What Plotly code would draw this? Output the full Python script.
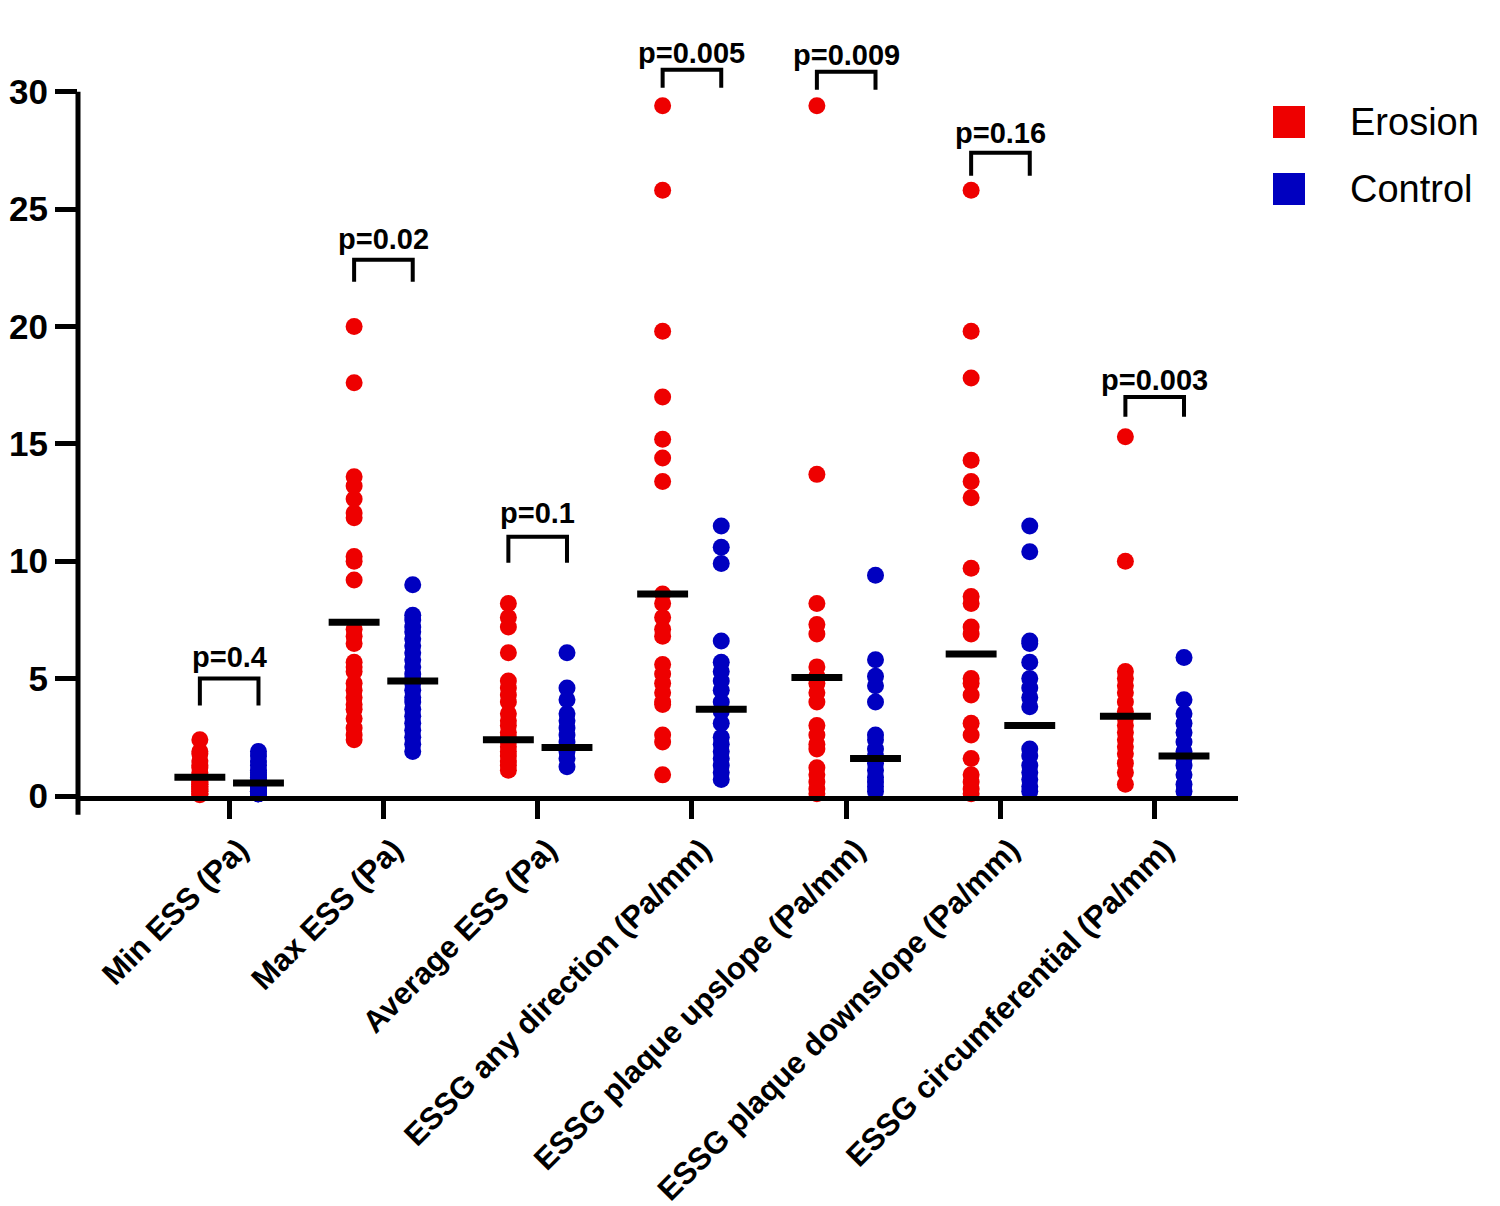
import plotly.graph_objects as go

categories = ["Min ESS (Pa)", "Max ESS (Pa)", "Average ESS (Pa)",
              "ESSG any direction (Pa/mm)", "ESSG plaque upslope (Pa/mm)",
              "ESSG plaque downslope (Pa/mm)", "ESSG circumferential (Pa/mm)"]

erosion_values = [
    [2.4, 1.9, 1.8, 1.5, 1.3, 1.2, 1.0, 0.9, 0.8, 0.7, 0.6, 0.6, 0.5, 0.5, 0.4, 0.4, 0.3, 0.3, 0.2, 0.2, 0.1, 0.1, 0.05],
    [20.0, 17.6, 13.6, 13.2, 12.65, 12.05, 11.85, 10.2, 10.0, 9.2, 7.1, 6.8, 6.5, 5.7, 5.5, 5.3, 4.8, 4.5, 4.2, 3.9, 3.7, 3.3, 2.9, 2.6, 2.4],
    [8.2, 7.6, 7.2, 6.1, 4.9, 4.6, 4.3, 4.0, 3.5, 3.2, 3.0, 2.7, 2.5, 2.3, 2.1, 1.9, 1.7, 1.5, 1.3, 1.1],
    [29.4, 25.8, 19.8, 17.0, 15.2, 14.4, 13.4, 8.6, 8.2, 7.6, 7.1, 6.8, 5.6, 5.2, 4.8, 4.4, 4.0, 3.9, 2.6, 2.3, 0.9],
    [29.4, 13.7, 8.2, 7.3, 6.9, 5.5, 5.1, 4.8, 4.4, 4.0, 3.0, 2.6, 2.2, 2.0, 1.2, 0.9, 0.6, 0.3, 0.1],
    [25.8, 19.8, 17.8, 14.3, 13.4, 12.7, 9.7, 8.5, 8.2, 7.2, 6.9, 5.0, 4.8, 4.3, 3.1, 2.6, 1.6, 0.9, 0.6, 0.3, 0.1],
    [15.3, 10.0, 5.3, 5.0, 4.7, 4.4, 4.0, 3.6, 3.3, 3.0, 2.7, 2.4, 2.1, 1.8, 1.4, 1.0, 0.5],
]

control_values = [
    [1.9, 1.7, 1.5, 1.3, 1.1, 1.0, 0.9, 0.8, 0.7, 0.6, 0.5, 0.5, 0.4, 0.4, 0.3, 0.3, 0.3, 0.2, 0.2, 0.2, 0.1, 0.1, 0.1, 0.1],
    [9.0, 7.7, 7.5, 7.2, 7.0, 6.7, 6.4, 6.1, 5.8, 5.5, 5.2, 5.0, 4.8, 4.5, 4.2, 4.0, 3.7, 3.4, 3.1, 2.8, 2.5, 2.2, 1.9],
    [6.1, 4.6, 4.1, 3.5, 3.2, 2.9, 2.6, 2.3, 2.1, 1.9, 1.6, 1.25],
    [11.5, 10.6, 9.9, 6.6, 5.7, 5.3, 4.9, 4.5, 4.0, 3.6, 3.1, 2.5, 2.2, 1.9, 1.6, 1.3, 1.0, 0.7],
    [9.4, 5.8, 5.1, 4.7, 4.0, 2.6, 2.4, 2.0, 1.7, 1.4, 1.1, 0.8, 0.6, 0.4, 0.2],
    [11.5, 10.4, 6.6, 6.5, 5.7, 5.0, 4.6, 4.2, 3.8, 2.0, 1.7, 1.3, 1.0, 0.7, 0.4, 0.2],
    [5.9, 4.1, 3.5, 3.1, 2.7, 2.3, 1.9, 1.6, 1.3, 0.9, 0.5, 0.2],
]

erosion_centre = [0.8, 7.4, 2.4, 8.6, 5.05, 6.05, 3.4]
control_centre = [0.55, 4.9, 2.07, 3.7, 1.6, 3.0, 1.7]

p_labels = ["p=0.4", "p=0.02", "p=0.1", "p=0.005", "p=0.009", "p=0.16", "p=0.003"]
bracket_top = [5.0, 22.84, 11.04, 30.93, 30.85, 27.4, 17.0]
bracket_leg = [3.85, 21.9, 9.93, 30.17, 30.08, 26.42, 16.15]
p_label_y = [5.92, 23.73, 12.06, 31.66, 31.57, 28.25, 17.72]

RED = "#EE0000"
BLUE = "#0000C0"
FONT = "Liberation Sans, Arial, sans-serif"
OFF = 0.19
HALF = 0.165

# figure size accounts for the 8px default page margin of the html body
W, H = 1492, 1198
L, T = 70, 25
PW, PH = 1160, 763

fig = go.Figure()

ex, ey, cx, cy = [], [], [], []
for i in range(len(categories)):
    for v in erosion_values[i]:
        ex.append(i - OFF)
        ey.append(v)
    for v in control_values[i]:
        cx.append(i + OFF)
        cy.append(v)

fig.add_trace(go.Scatter(x=ex, y=ey, mode="markers", name="Erosion",
                         marker=dict(color=RED, size=17, line=dict(width=0)),
                         cliponaxis=False, showlegend=False))
fig.add_trace(go.Scatter(x=cx, y=cy, mode="markers", name="Control",
                         marker=dict(color=BLUE, size=17, line=dict(width=0)),
                         cliponaxis=False, showlegend=False))

for i in range(len(categories)):
    fig.add_trace(go.Scatter(x=[i - OFF - HALF, i - OFF + HALF], y=[erosion_centre[i]] * 2,
                             mode="lines", line=dict(color="black", width=7),
                             showlegend=False, hoverinfo="skip"))
    fig.add_trace(go.Scatter(x=[i + OFF - HALF, i + OFF + HALF], y=[control_centre[i]] * 2,
                             mode="lines", line=dict(color="black", width=7),
                             showlegend=False, hoverinfo="skip"))

shapes = []
annotations = []
for i in range(len(categories)):
    xa, xb = i - OFF, i + OFF
    shapes.append(dict(type="path", xref="x", yref="y",
                       path=f"M {xa},{bracket_leg[i]} L {xa},{bracket_top[i]} L {xb},{bracket_top[i]} L {xb},{bracket_leg[i]}",
                       line=dict(color="black", width=4)))
    annotations.append(dict(x=i, y=p_label_y[i], xref="x", yref="y", text=p_labels[i],
                            showarrow=False, xanchor="center", yanchor="middle",
                            font=dict(family=FONT, size=29, color="black", weight="bold")))

YMAX = 32.5
# y axis line (0 to 30, extending slightly below the x axis)
shapes.append(dict(type="line", xref="paper", yref="paper", x0=0, x1=0,
                   y0=-0.8 / YMAX, y1=30 / YMAX, line=dict(color="black", width=5)))

# legend (positions measured relative to the plot area)
leg_items = [("Erosion", RED, 122), ("Control", BLUE, 189)]
for name, col, py in leg_items:
    shapes.append(dict(type="rect", xref="paper", yref="paper",
                       x0=(1273 - 78) / PW, x1=(1305 - 78) / PW,
                       y0=(796 - (py + 16)) / PH, y1=(796 - (py - 16)) / PH,
                       fillcolor=col, line=dict(width=0)))
    annotations.append(dict(x=(1348 - 78) / PW, y=(796 - py) / PH, xref="paper", yref="paper",
                            text=name, showarrow=False, xanchor="left", yanchor="middle",
                            font=dict(family=FONT, size=38, color="black")))

fig.update_layout(
    width=W, height=H,
    margin=dict(l=L, r=W - L - PW, t=T, b=H - T - PH, pad=0, autoexpand=False),
    plot_bgcolor="white", paper_bgcolor="white",
    showlegend=False,
    shapes=shapes, annotations=annotations,
    xaxis=dict(range=[-0.98, 6.54], tickvals=list(range(len(categories))), ticktext=categories,
               tickangle=-45, showgrid=False, zeroline=False, showline=True, automargin=False,
               linecolor="black", linewidth=5, ticks="outside", ticklen=18, tickwidth=5,
               tickcolor="black", ticklabelshift=10,
               tickfont=dict(family=FONT, size=31, color="black", weight="bold")),
    yaxis=dict(range=[0, YMAX], tickvals=[0, 5, 10, 15, 20, 25, 30], showgrid=False,
               zeroline=False, showline=False, ticks="outside", ticklen=22, tickwidth=5,
               tickcolor="black", automargin=False,
               tickfont=dict(family=FONT, size=35, color="black", weight="bold")),
)

fig.write_html("out.html")
